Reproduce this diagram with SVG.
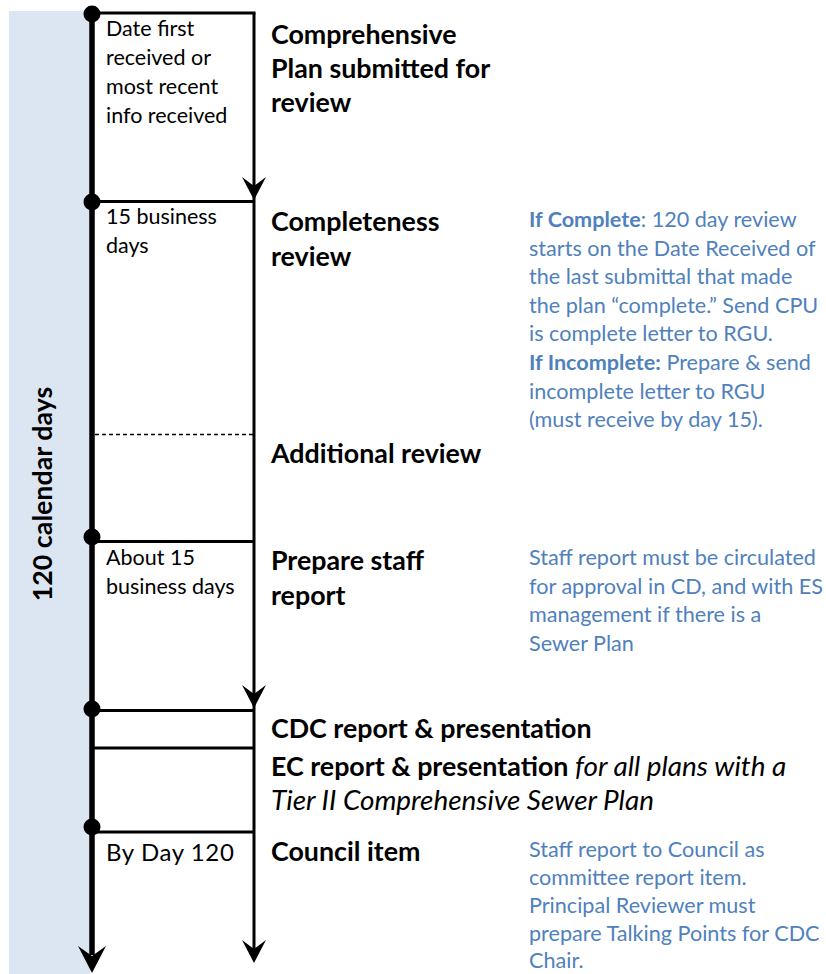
<svg xmlns="http://www.w3.org/2000/svg" width="826" height="974" viewBox="0 0 826 974">
<style>
.main{font-family:Lato,"Open Sans","Liberation Sans",sans-serif;font-weight:bold;font-size:26.8px;fill:#000}
.small{font-family:Lato,"Open Sans","Liberation Sans",sans-serif;font-size:21.5px;fill:#000}
.day{font-size:24px;letter-spacing:0.6px}
.note{font-family:Lato,"Open Sans","Liberation Sans",sans-serif;font-size:21.6px;fill:#4F81BD}
.b{font-weight:bold}
.i{font-style:italic;font-weight:normal;font-size:27.9px}
.hl{stroke:#000;stroke-width:3;fill:none}
.dot{fill:#000}
.head{fill:#000}
</style>
<rect x="9" y="11" width="81" height="963" fill="#DCE6F2"/>
<text class="main" transform="translate(52,494) rotate(-90)" text-anchor="middle">120 calendar days</text>

<g id="connectors">
  <line x1="92" y1="13" x2="92" y2="955" stroke="#000" stroke-width="5.5"/>
  <path class="head" d="M92,973 L78,946 L92,956 L106,946 Z"/>
  <line x1="254" y1="13" x2="254" y2="955" stroke="#000" stroke-width="3"/>
  <path class="head" d="M254,200 L242,177 L254,186 L266,177 Z"/>
  <path class="head" d="M254,708 L242,685 L254,694 L266,685 Z"/>
  <path class="head" d="M254,963 L242,940 L254,949 L266,940 Z"/>
  <line class="hl" x1="92" y1="13" x2="255.5" y2="13"/>
  <line class="hl" x1="92" y1="201.5" x2="254" y2="201.5"/>
  <line x1="95" y1="434.5" x2="254" y2="434.5" stroke="#000" stroke-width="1.5" stroke-dasharray="4,3"/>
  <line class="hl" x1="92" y1="541.5" x2="254" y2="541.5"/>
  <line class="hl" x1="92" y1="710.5" x2="254" y2="710.5"/>
  <line class="hl" x1="92" y1="748" x2="254" y2="748"/>
  <line class="hl" x1="92" y1="832" x2="254" y2="832"/>
</g>

<g id="dots">
  <circle class="dot" cx="92" cy="14" r="8.5"/>
  <circle class="dot" cx="92" cy="202" r="8.5"/>
  <circle class="dot" cx="92" cy="537" r="8.5"/>
  <circle class="dot" cx="92" cy="709" r="8.5"/>
  <circle class="dot" cx="92" cy="827" r="8.5"/>
</g>

<g id="node-submitted">
  <text class="small" x="106"><tspan x="106" y="36">Date first</tspan><tspan x="106" y="65">received or</tspan><tspan x="106" y="94">most recent</tspan><tspan x="106" y="123">info received</tspan></text>
  <text class="main"><tspan x="271" y="44">Comprehensive</tspan><tspan x="271" y="78">Plan submitted for</tspan><tspan x="271" y="112">review</tspan></text>
</g>

<g id="node-completeness">
  <text class="small"><tspan x="106" y="224">15 business</tspan><tspan x="106" y="253">days</tspan></text>
  <text class="main"><tspan x="271" y="231">Completeness</tspan><tspan x="271" y="266">review</tspan></text>
  <text class="note"><tspan x="529" y="227"><tspan class="b">If Complete</tspan>: 120 day review</tspan><tspan x="529" y="255.6">starts on the Date Received of</tspan><tspan x="529" y="284.2">the last submittal that made</tspan><tspan x="529" y="312.8">the plan “complete.” Send CPU</tspan><tspan x="529" y="341.4">is complete letter to RGU.</tspan><tspan x="529" y="370"><tspan class="b">If Incomplete:</tspan> Prepare &amp; send</tspan><tspan x="529" y="398.6">incomplete letter to RGU</tspan><tspan x="529" y="427.2">(must receive by day 15).</tspan></text>
</g>

<g id="node-additional">
  <text class="main" x="271" y="463">Additional review</text>
</g>

<g id="node-staff-report">
  <text class="small"><tspan x="106" y="565">About 15</tspan><tspan x="106" y="594">business days</tspan></text>
  <text class="main"><tspan x="271" y="570">Prepare staff</tspan><tspan x="271" y="605">report</tspan></text>
  <text class="note"><tspan x="529" y="565">Staff report must be circulated</tspan><tspan x="529" y="593.5">for approval in CD, and with ES</tspan><tspan x="529" y="622">management if there is a</tspan><tspan x="529" y="650.5">Sewer Plan</tspan></text>
</g>

<g id="node-cdc">
  <text class="main" x="271" y="738">CDC report &amp; presentation</text>
</g>

<g id="node-ec">
  <text class="main"><tspan x="271" y="776">EC report &amp; presentation <tspan class="i">for all plans with a</tspan></tspan><tspan x="271" y="810" class="i">Tier II Comprehensive Sewer Plan</tspan></text>
</g>

<g id="node-council">
  <text class="small day" x="106" y="861">By Day 120</text>
  <text class="main" x="271" y="861">Council item</text>
  <text class="note"><tspan x="529" y="857">Staff report to Council as</tspan><tspan x="529" y="885">committee report item.</tspan><tspan x="529" y="913">Principal Reviewer must</tspan><tspan x="529" y="941">prepare Talking Points for CDC</tspan><tspan x="529" y="968">Chair.</tspan></text>
</g>
</svg>
